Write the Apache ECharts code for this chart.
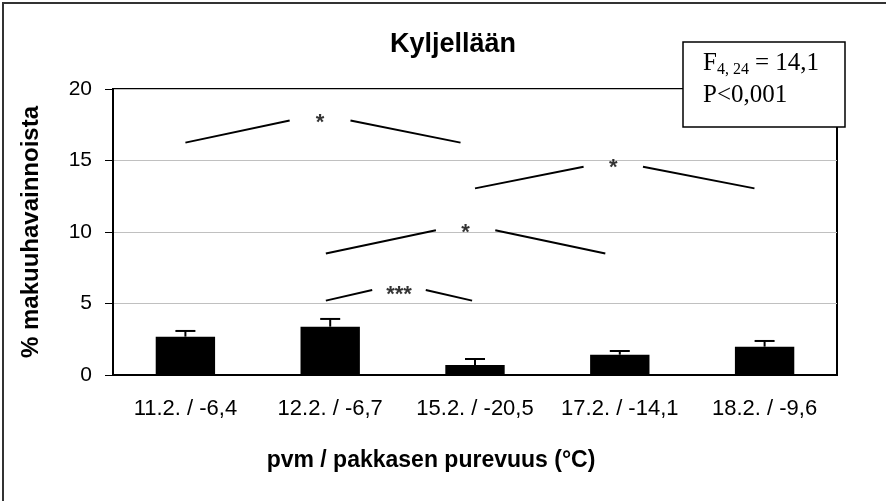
<!DOCTYPE html>
<html>
<head>
<meta charset="utf-8">
<script src="https://cdn.jsdelivr.net/npm/echarts@6/dist/echarts.min.js"></script>
<style>
  html, body { margin: 0; padding: 0; background: #fff; }
  #main { width: 886px; height: 501px; }
</style>
</head>
<body>
<div id="main"></div>
<script>
var categories = ['11.2. / -6,4', '12.2. / -6,7', '15.2. / -20,5', '17.2. / -14,1', '18.2. / -9,6'];
var means = [2.68, 3.38, 0.7, 1.42, 1.98];
var errors = [0.4, 0.54, 0.42, 0.26, 0.4];
var yTicks = [0, 5, 10, 15, 20];

// significance brackets (x in category units, y in %)
var sigLabels = ['*', '*', '*', '***'];
var sigX = [[0.0, 0.72, 1.14, 1.9], [2.0, 2.75, 3.16, 3.93], [0.97, 1.73, 2.14, 2.9], [0.97, 1.29, 1.66, 1.98]];
var sigY = [[16.25, 17.8], [13.05, 14.57], [8.5, 10.12], [5.2, 5.94]];
var sigStarY = [17.95, 14.83, 10.28, 5.94];

var FONT = 'Liberation Sans';
var chartDom = document.getElementById('main');
var myChart = echarts.init(chartDom);

var series = [];
series.push({
    type: 'bar',
    data: means,
    barWidth: '41%',
    itemStyle: { color: '#000' },
    silent: true
});
series.push({
    type: 'custom',
    data: means.map(function (m, i) { return [i, m, m + errors[i]]; }),
    z: 5,
    renderItem: function (params, api) {
        var p0 = api.coord([api.value(0), api.value(1)]);
        var p1 = api.coord([api.value(0), api.value(2)]);
        var style = { stroke: '#000', lineWidth: 2 };
        return {
            type: 'group',
            children: [
                { type: 'line', shape: { x1: p0[0], y1: p0[1], x2: p1[0], y2: p1[1] }, style: style },
                { type: 'line', shape: { x1: p1[0] - 10, y1: p1[1], x2: p1[0] + 10, y2: p1[1] }, style: style }
            ]
        };
    }
});
sigX.forEach(function (xs, i) {
    var ys = sigY[i];
    [[[xs[0], ys[0]], [xs[1], ys[1]]], [[xs[2], ys[1]], [xs[3], ys[0]]]].forEach(function (seg) {
        series.push({
            type: 'line',
            xAxisIndex: 1,
            data: seg,
            symbol: 'none',
            silent: true,
            lineStyle: { color: '#000', width: 2 },
            z: 6
        });
    });
    series.push({
        type: 'scatter',
        xAxisIndex: 1,
        data: [[(xs[1] + xs[2]) / 2, sigStarY[i]]],
        symbolSize: 0,
        silent: true,
        label: {
            show: true,
            position: 'inside',
            formatter: sigLabels[i],
            color: '#000',
            fontFamily: FONT,
            fontWeight: 'bold',
            fontSize: 22,
            offset: [0, 5]
        },
        z: 7
    });
});

var option = {
    animation: false,
    backgroundColor: '#fff',
    grid: {
        left: 113, top: 89, width: 724, height: 286,
        show: true, borderColor: '#000', borderWidth: 2, backgroundColor: '#fff'
    },
    xAxis: [{
        type: 'category',
        data: categories,
        name: 'pvm / pakkasen purevuus (°C)',
        nameLocation: 'middle',
        nameGap: 74,
        nameTextStyle: { fontFamily: FONT, fontWeight: 'bold', fontSize: 23, color: '#000', padding: [0, 88, 0, 0] },
        axisLine: { lineStyle: { color: '#000', width: 2 } },
        axisTick: { length: 8, lineStyle: { color: '#000', width: 1 } },
        axisLabel: { interval: 0, fontFamily: FONT, fontSize: 22, color: '#000', margin: 23 }
    }, {
        type: 'value',
        min: -0.5,
        max: 4.5,
        show: false
    }],
    yAxis: {
        type: 'value',
        min: yTicks[0],
        max: yTicks[yTicks.length - 1],
        interval: 5,
        name: '% makuuhavainnoista',
        nameLocation: 'middle',
        nameGap: 70,
        nameTextStyle: { fontFamily: FONT, fontWeight: 'bold', fontSize: 24, color: '#000' },
        axisLine: { show: true, onZero: false, lineStyle: { color: '#000', width: 2 } },
        axisTick: { show: true, length: 8, lineStyle: { color: '#000', width: 1 } },
        axisLabel: { fontFamily: FONT, fontSize: 21, color: '#000', margin: 21 },
        splitLine: { lineStyle: { color: '#c0c0c0', width: 1 } }
    },
    graphic: [
        { type: 'rect', shape: { x: 3, y: 3, width: 1000, height: 1000 }, style: { fill: 'none', stroke: '#333', lineWidth: 2 }, silent: true },
        { type: 'text', x: 453, y: 45, style: { text: 'Kyljellään', fontFamily: FONT, fontWeight: 'bold', fontSize: 27, fill: '#000', align: 'center', verticalAlign: 'middle' } },
        { type: 'rect', shape: { x: 683, y: 42, width: 162, height: 85 }, style: { fill: '#fff', stroke: '#000', lineWidth: 1.5 }, z: 100 },
        { type: 'text', x: 703, y: 63, z: 101, style: { text: 'F', fontFamily: 'Liberation Serif', fontSize: 25, fill: '#000', verticalAlign: 'middle' } },
        { type: 'text', x: 717, y: 70, z: 101, style: { text: '4, 24', fontFamily: 'Liberation Serif', fontSize: 16, fill: '#000', verticalAlign: 'middle' } },
        { type: 'text', x: 755, y: 63, z: 101, style: { text: '= 14,1', fontFamily: 'Liberation Serif', fontSize: 25, fill: '#000', verticalAlign: 'middle' } },
        { type: 'text', x: 703, y: 95, z: 101, style: { text: 'P<0,001', fontFamily: 'Liberation Serif', fontSize: 25, fill: '#000', verticalAlign: 'middle' } }
    ],
    series: series
};

option && myChart.setOption(option);
</script>
</body>
</html>
